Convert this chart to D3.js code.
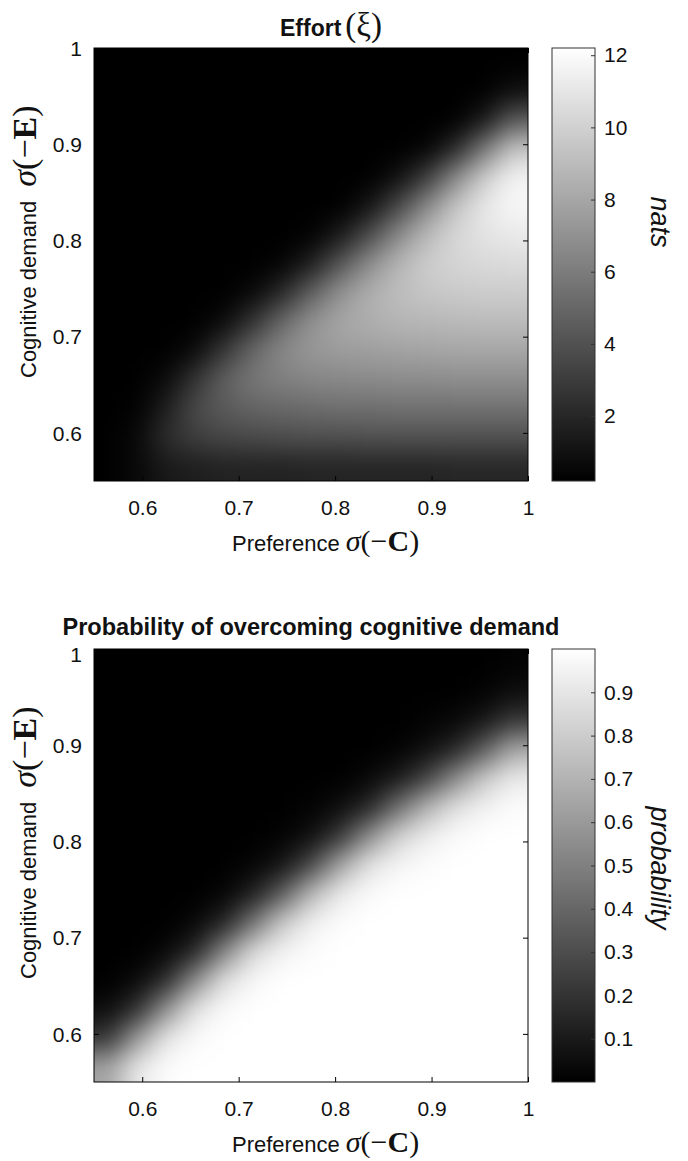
<!DOCTYPE html>
<html>
<head>
<meta charset="utf-8">
<script src="https://cdn.jsdelivr.net/npm/d3@7"></script>
<style>
  body { margin: 0; background: #fff; }
  text { font-family: "Liberation Sans", Arial, sans-serif; fill: #111; }
  .math { font-family: "Liberation Serif", "Times New Roman", serif; }
</style>
</head>
<body>
<svg id="fig" width="688" height="1161"></svg>
<script>
// cell centres (grid step 0.03 over 0.55..1)
var xCenters = [0.565, 0.595, 0.625, 0.655, 0.685, 0.715, 0.745, 0.775, 0.805, 0.835, 0.865, 0.895, 0.925, 0.955, 0.985];
// rows listed top to bottom
var yCenters = [0.985, 0.955, 0.925, 0.895, 0.865, 0.835, 0.805, 0.775, 0.745, 0.715, 0.685, 0.655, 0.625, 0.595, 0.565];

// effort, nats
var effortRows = [
  [0.2,0.2,0.2,0.2,0.2,0.2,0.2,0.2,0.2,0.2,0.2,0.2,0.2,0.2,0.2],
  [0.2,0.2,0.2,0.2,0.2,0.2,0.2,0.2,0.2,0.2,0.2,0.2,0.2,0.2,0.9],
  [0.2,0.2,0.2,0.2,0.2,0.2,0.2,0.2,0.2,0.2,0.2,0.2,0.2,1.4,4.4],
  [0.2,0.2,0.2,0.2,0.2,0.2,0.2,0.2,0.2,0.2,0.2,0.4,2.1,5.8,9.4],
  [0.2,0.2,0.2,0.2,0.2,0.2,0.2,0.2,0.2,0.2,0.9,3.0,6.6,9.8,11.7],
  [0.2,0.2,0.2,0.2,0.2,0.2,0.2,0.2,0.2,1.1,3.5,6.6,9.4,11.1,11.8],
  [0.2,0.2,0.2,0.2,0.2,0.2,0.2,0.3,1.4,3.7,6.6,8.9,10.3,10.9,11.2],
  [0.2,0.2,0.2,0.2,0.2,0.2,0.4,1.6,4.2,6.8,8.7,9.8,10.2,10.4,10.5],
  [0.2,0.2,0.2,0.2,0.2,0.6,2.1,4.7,7.0,8.4,9.1,9.5,9.7,9.8,9.8],
  [0.2,0.2,0.2,0.2,0.7,2.6,5.1,7.0,8.0,8.4,8.7,8.8,8.9,9.0,9.0],
  [0.2,0.2,0.2,0.7,2.8,5.1,6.6,7.3,7.6,7.7,7.8,7.9,8.0,8.0,8.0],
  [0.2,0.2,0.7,2.6,4.7,5.8,6.2,6.5,6.6,6.7,6.8,6.8,6.9,6.9,6.9],
  [0.2,0.3,1.6,3.7,4.5,4.9,5.1,5.3,5.4,5.4,5.5,5.5,5.5,5.5,5.5],
  [0.2,0.6,2.3,3.1,3.5,3.7,3.8,3.9,3.9,4.0,4.0,4.0,4.0,4.0,4.0],
  [0.2,0.6,1.4,1.6,1.8,1.8,1.8,1.9,1.9,1.9,1.9,1.9,2.0,2.0,2.0]
];

// probability of overcoming cognitive demand
var probRows = [
  [0,0,0,0,0,0,0,0,0,0,0,0,0,0,0.01],
  [0,0,0,0,0,0,0,0,0,0,0,0,0,0.01,0.05],
  [0,0,0,0,0,0,0,0,0,0,0,0.01,0.03,0.09,0.22],
  [0,0,0,0,0,0,0,0,0,0,0.01,0.06,0.15,0.37,0.66],
  [0,0,0,0,0,0,0,0,0,0.03,0.10,0.26,0.54,0.79,0.92],
  [0,0,0,0,0,0,0,0.01,0.05,0.15,0.43,0.70,0.88,0.95,0.99],
  [0,0,0,0,0,0,0.01,0.06,0.21,0.55,0.82,0.93,0.98,1,1],
  [0,0,0,0,0,0.02,0.08,0.28,0.64,0.89,0.96,0.99,1,1,1],
  [0,0,0,0,0.02,0.12,0.36,0.72,0.92,0.98,1,1,1,1,1],
  [0,0,0,0.03,0.14,0.45,0.79,0.94,0.99,1,1,1,1,1,1],
  [0,0,0.03,0.15,0.52,0.85,0.95,0.99,1,1,1,1,1,1,1],
  [0,0.04,0.17,0.55,0.87,0.97,1,1,1,1,1,1,1,1,1],
  [0.05,0.19,0.57,0.89,0.98,1,1,1,1,1,1,1,1,1,1],
  [0.21,0.60,0.90,0.98,1,1,1,1,1,1,1,1,1,1,1],
  [0.64,0.91,0.99,1,1,1,1,1,1,1,1,1,1,1,1]
];

var axisTicks = [0.6, 0.7, 0.8, 0.9, 1];
var effortBarTicks = [2, 4, 6, 8, 10, 12];
var probBarTicks = [0.1, 0.2, 0.3, 0.4, 0.5, 0.6, 0.7, 0.8, 0.9];

var svg = d3.select("#fig");
svg.append("rect").attr("width", 688).attr("height", 1161).attr("fill", "#fff");
var defs = svg.append("defs");
// blur in sRGB so the near-black shades do not band
defs.append("filter").attr("id", "soft")
  .attr("color-interpolation-filters", "sRGB")
  .attr("x", "-10%").attr("y", "-10%").attr("width", "120%").attr("height", "120%")
  .append("feGaussianBlur").attr("stdDeviation", 13);

var half = 0.015, pad = 48;
var plotL = 94, plotR = 528, plotH = 433;
var cbL = 552, cbR = 595;

function drawPanel(opt) {
  var top = opt.top, bottom = top + plotH;
  var x = d3.scaleLinear().domain([0.55, 1]).range([plotL, plotR]);
  var y = d3.scaleLinear().domain([0.55, 1]).range([bottom, top]);
  var color = d3.scaleLinear().domain(opt.range).range(["#000", "#fff"]).clamp(true);

  var cells = [];
  opt.rows.forEach(function(row, r) {
    row.forEach(function(v, c) { cells.push({r: r, c: c, v: v}); });
  });

  var clipId = "clip" + opt.id;
  defs.append("clipPath").attr("id", clipId)
    .append("rect").attr("x", plotL).attr("y", top).attr("width", plotR - plotL).attr("height", plotH);

  var nC = xCenters.length, nR = yCenters.length;
  svg.append("g").attr("clip-path", "url(#" + clipId + ")")
    .append("g").attr("filter", "url(#soft)")
    .selectAll("rect").data(cells).enter().append("rect")
    .attr("x", function(d) { return x(xCenters[d.c] - half) - (d.c === 0 ? pad : 0) - 0.5; })
    .attr("width", function(d) {
      return x(xCenters[d.c] + half) - x(xCenters[d.c] - half) + (d.c === 0 || d.c === nC - 1 ? pad : 0) + 1;
    })
    .attr("y", function(d) { return y(yCenters[d.r] + half) - (d.r === 0 ? pad : 0) - 0.5; })
    .attr("height", function(d) {
      return y(yCenters[d.r] - half) - y(yCenters[d.r] + half) + (d.r === 0 || d.r === nR - 1 ? pad : 0) + 1;
    })
    .attr("fill", function(d) { return color(d.v); });

  var fmt = function(d) { return String(d); };
  var fs = 21;

  // axes, MATLAB style ticks pointing inwards
  var gb = svg.append("g").attr("transform", "translate(0," + bottom + ")")
    .call(d3.axisBottom(x).tickValues(axisTicks).tickSize(-5).tickPadding(19).tickFormat(fmt));
  var gt = svg.append("g").attr("transform", "translate(0," + top + ")")
    .call(d3.axisTop(x).tickValues(axisTicks).tickSize(-5).tickFormat(""));
  var gl = svg.append("g").attr("transform", "translate(" + plotL + ",0)")
    .call(d3.axisLeft(y).tickValues(axisTicks).tickSize(-5).tickPadding(12).tickFormat(fmt));
  var gr = svg.append("g").attr("transform", "translate(" + plotR + ",0)")
    .call(d3.axisRight(y).tickValues(axisTicks).tickSize(-5).tickFormat(""));
  [gb, gt, gl, gr].forEach(function(g) {
    g.select(".domain").remove();
    g.selectAll("line").attr("stroke", "#000");
    g.selectAll("text").attr("font-size", fs).attr("font-family", "Liberation Sans, Arial, sans-serif").attr("fill", "#111");
  });
  gl.selectAll("text").attr("dy", function(d) { return d === 1 ? opt.topLabelDy : "0.34em"; });

  svg.append("rect").attr("x", plotL).attr("y", top).attr("width", plotR - plotL).attr("height", plotH)
    .attr("fill", "none").attr("stroke", "#000").attr("stroke-width", 1);

  // colorbar
  var cb = d3.scaleLinear().domain(opt.range).range([bottom, top]);
  var gradId = "grad" + opt.id;
  var grad = defs.append("linearGradient").attr("id", gradId)
    .attr("x1", 0).attr("y1", 1).attr("x2", 0).attr("y2", 0);
  grad.selectAll("stop").data([0, 0.5, 1]).enter().append("stop")
    .attr("offset", function(t) { return t; })
    .attr("stop-color", function(t) { return color(opt.range[0] + t * (opt.range[1] - opt.range[0])); });
  svg.append("rect").attr("x", cbL).attr("y", top).attr("width", cbR - cbL).attr("height", plotH)
    .attr("fill", "url(#" + gradId + ")").attr("stroke", "#333").attr("stroke-width", 1);
  var gc = svg.append("g").attr("transform", "translate(" + cbR + ",0)")
    .call(d3.axisRight(cb).tickValues(opt.barTicks).tickSize(-4).tickPadding(9).tickFormat(fmt));
  gc.select(".domain").remove();
  gc.selectAll("line").attr("stroke", "#333");
  gc.selectAll("text").attr("font-size", fs).attr("font-family", "Liberation Sans, Arial, sans-serif").attr("fill", "#111");

  svg.append("text")
    .attr("transform", "translate(651," + opt.barLabelY + ") rotate(90)")
    .attr("text-anchor", "middle").attr("font-size", 27).attr("font-style", "italic")
    .text(opt.barLabel);

  // y label
  var yl = svg.append("text").attr("transform", "translate(36," + (top + 330) + ") rotate(-90)")
    .attr("font-size", 22);
  yl.append("tspan").text("Cognitive demand");
  yl.append("tspan").attr("class", "math").attr("font-size", 34).attr("font-style", "italic").attr("dx", 14).text("σ");
  yl.append("tspan").attr("class", "math").attr("font-size", 34).text("(−");
  yl.append("tspan").attr("class", "math").attr("font-size", 34).attr("font-weight", "bold").text("E");
  yl.append("tspan").attr("class", "math").attr("font-size", 34).text(")");

  // x label
  var xl = svg.append("text").attr("x", 232).attr("y", bottom + 70).attr("font-size", 22);
  xl.append("tspan").text("Preference ");
  xl.append("tspan").attr("class", "math").attr("font-size", 30).attr("font-style", "italic").text("σ");
  xl.append("tspan").attr("class", "math").attr("font-size", 30).text("(−");
  xl.append("tspan").attr("class", "math").attr("font-size", 30).attr("font-weight", "bold").text("C");
  xl.append("tspan").attr("class", "math").attr("font-size", 30).text(")");

  opt.title(top);
}

drawPanel({
  id: "a", top: 48, rows: effortRows, range: [0.2, 12.2], barTicks: effortBarTicks,
  barLabel: "nats", barLabelY: 222, topLabelDy: "0.34em",
  title: function(top) {
    var t = svg.append("text").attr("x", 280).attr("y", top - 12).attr("font-size", 23).attr("font-weight", "bold");
    t.append("tspan").text("Effort");
    t.append("tspan").attr("class", "math").attr("font-weight", "normal").attr("font-size", 33).attr("dx", 4).text("(ξ)");
  }
});

drawPanel({
  id: "b", top: 649, rows: probRows, range: [0, 1], barTicks: probBarTicks,
  barLabel: "probability", barLabelY: 868, topLabelDy: "0.6em",
  title: function(top) {
    svg.append("text").attr("x", 311).attr("y", top - 14).attr("text-anchor", "middle")
      .attr("font-size", 23).attr("font-weight", "bold")
      .attr("textLength", 497).attr("lengthAdjust", "spacingAndGlyphs")
      .text("Probability of overcoming cognitive demand");
  }
});
</script>
</body>
</html>
